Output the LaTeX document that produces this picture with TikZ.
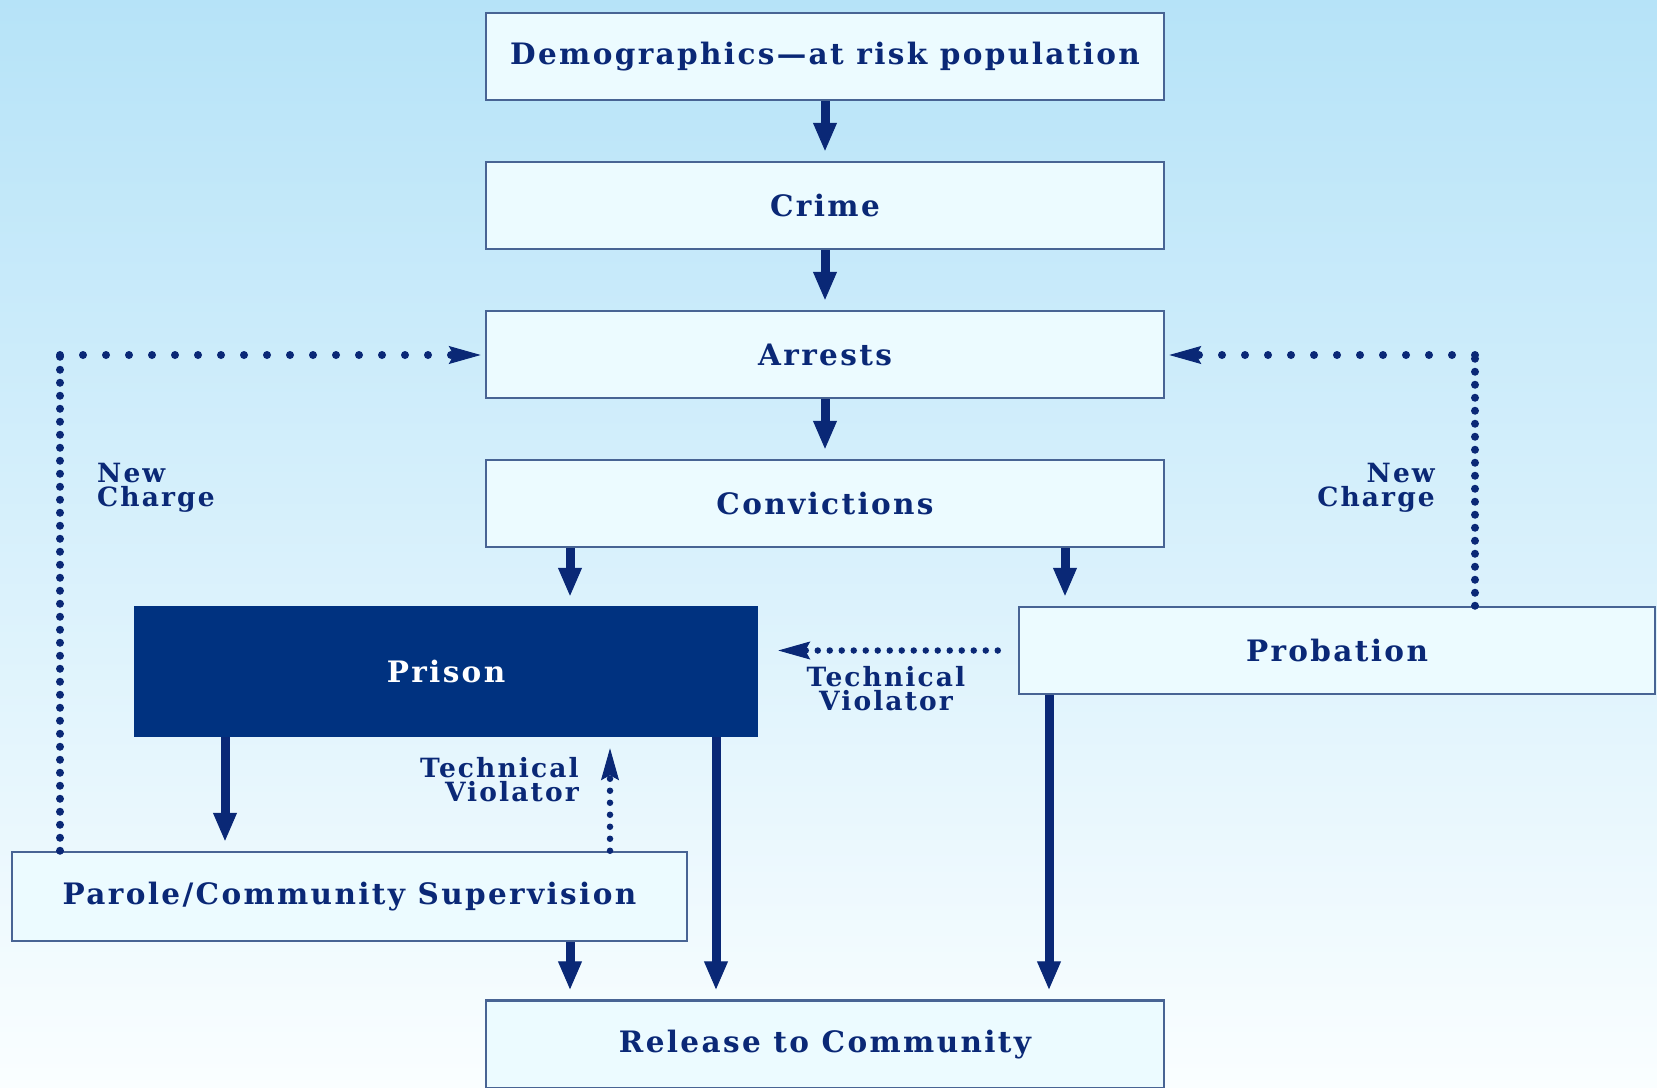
\documentclass[tikz,border=0pt]{standalone}
\usepackage{fontspec}
\setmainfont{DejaVu Serif}[LetterSpace=8]
\usetikzlibrary{positioning,arrows.meta,calc}

\definecolor{navy}{RGB}{10,40,118}
\definecolor{prisonblue}{RGB}{0,50,128}
\definecolor{boxfill}{RGB}{236,251,255}
\definecolor{boxline}{RGB}{72,100,148}
\definecolor{skytop}{RGB}{182,227,248}
\definecolor{skybot}{RGB}{250,254,255}

\newcommand{\stagefont}{\fontsize{29.5}{29.5}\selectfont\bfseries}
\newcommand{\notefont}{\fontsize{26.5}{24}\selectfont\bfseries}

\begin{document}
\begin{tikzpicture}[x=1pt,y=-1pt,
    stage/.style={draw=boxline, line width=2.5pt, fill=boxfill, text=navy, font=\stagefont,
                  inner sep=0pt, minimum height=87pt, minimum width=678pt},
    flow/.style={draw=navy, line width=9pt, -{Triangle[width=24pt,length=28pt,line width=1pt]}, shorten >=10pt},
    chargeline/.style={draw=navy, line width=8pt, line cap=round, dash pattern=on 0pt off 23pt},
    chargeup/.style={draw=navy, line width=8pt, line cap=round, dash pattern=on 0pt off 13pt},
    violline/.style={draw=navy, line width=6.5pt, line cap=round, dash pattern=on 0pt off 12pt},
    dottip/.style={-{Stealth[width=18pt,length=32pt,inset=5pt,line width=1pt]}},
    note/.style={text=navy, font=\notefont, inner sep=0pt}]
    \useasboundingbox (0,0) rectangle (1657,1087);
    \shade[top color=skytop, bottom color=skybot] (0,0) rectangle (1657,1087);

    % main chain
    \node[stage] (demo) at (825,56.5) {Demographics---at risk population};
    \node[stage, below=59.5pt of demo] (crime) {Crime};
    \node[stage, below=59.5pt of crime] (arrests) {Arrests};
    \node[stage, below=59.5pt of arrests] (convictions) {Convictions};

    \node[stage, fill=prisonblue, draw=prisonblue, text=white, minimum width=622pt, minimum height=129pt] (prison) at (446,671.5) {Prison};
    \node[stage, minimum width=636pt] (probation) at (1337,650.5) {Probation};
    \node[stage, minimum width=675pt, minimum height=89pt] (parole) at (349.5,896.5) {Parole/Community Supervision};
    \node[stage, minimum height=88pt] (release) at (825,1044.5) {Release to Community};

    \coordinate (lcorner) at (60,355);
    \coordinate (rcorner) at (1475,355);

    % solid arrows
    \draw[flow] (demo.south) -- (crime.north);
    \draw[flow] (crime.south) -- (arrests.north);
    \draw[flow] (arrests.south) -- (convictions.north);
    \draw[flow] ([xshift=-255pt]convictions.south) -- ([xshift=-255pt]convictions.south |- prison.north);
    \draw[flow] ([xshift=240pt]convictions.south) -- ([xshift=240pt]convictions.south |- probation.north);
    \draw[flow] ([xshift=-221pt]prison.south) -- ([xshift=-221pt]prison.south |- parole.north);
    \draw[flow] ([xshift=270pt]prison.south) -- ([xshift=270pt]prison.south |- release.north);
    \draw[flow] ([xshift=220.5pt]parole.south) -- ([xshift=220.5pt]parole.south |- release.north);
    \draw[flow] ([xshift=-288pt]probation.south) -- ([xshift=-288pt]probation.south |- release.north);

    % new charge loops
    \draw[chargeup] (parole.north -| lcorner) -- (lcorner);
    \draw[chargeline, dottip, shorten >=4pt] (lcorner) -- (lcorner -| arrests.west);
    \draw[chargeup] (probation.north -| rcorner) -- (rcorner);
    \draw[chargeline, dottip, shorten >=4pt] (rcorner) -- (rcorner -| arrests.east);

    % technical violators
    \draw[violline, dottip, shorten <=20pt, shorten >=20pt] (probation.west) -- (probation.west -| prison.east);
    \draw[violline, dottip, shorten >=11pt] ([xshift=260.5pt]parole.north) -- ([xshift=260.5pt]parole.north |- prison.south);

    \node[note, anchor=west, align=left] (lcharge) at (97,488) {New\\Charge};
    \node[note, anchor=east, align=right] (rcharge) at (1435,488) {New\\Charge};
    \node[note, align=center] (pviol) at (886,689) {Technical\\Violator};
    \node[note, anchor=east, align=right] (cviol) at (579,780) {Technical\\Violator};
\end{tikzpicture}
\end{document}
